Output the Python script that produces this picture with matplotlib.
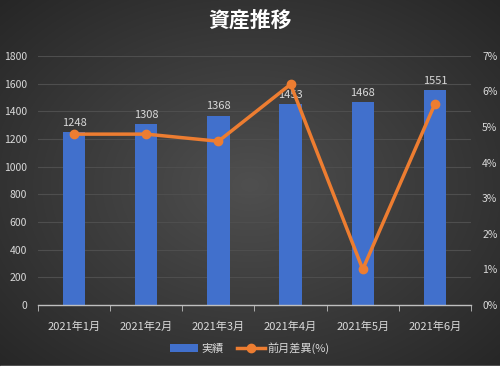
import numpy as np
import matplotlib
matplotlib.use("Agg")
import matplotlib.pyplot as plt
from matplotlib.ticker import PercentFormatter

plt.rcParams['font.family'] = ['Noto Sans CJK JP', 'DejaVu Sans']

# data
months = ['2021年1月', '2021年2月', '2021年3月', '2021年4月', '2021年5月', '2021年6月']
actual = [1248, 1308, 1368, 1453, 1468, 1551]
diff_pct = [4.8, 4.8, 4.6, 6.2, 1.0, 5.65]  # %

fig = plt.figure(figsize=(5, 3.7), dpi=100)

# dark radial gradient background
bg = fig.add_axes([0, 0, 1, 1])
yy, xx = np.mgrid[-1:1:370j, -1:1:500j]
r = np.sqrt(xx**2 + yy**2) / np.sqrt(2)
shade = 0.31 - 0.16 * r
img = np.dstack([shade, shade, shade])
bg.imshow(img, aspect='auto', extent=[0, 1, 0, 1])
bg.axhspan(0, 0.012, color='white')
bg.set_xlim(0, 1)
bg.set_ylim(0, 1)
bg.axis('off')

ax = fig.add_axes([0.076, 0.176, 0.866, 0.673])
ax.patch.set_alpha(0)
x = np.arange(len(months))
bars = ax.bar(x, actual, width=0.31, color='#4170CC', zorder=2, label='実績')
for xi, v in zip(x, actual):
    ax.text(xi, v + 30, str(v), ha='center', va='bottom', color='#d9d9d9', fontsize=8)

ax.set_xlim(-0.5, 5.5)
ax.set_ylim(0, 1800)
ax.set_yticks(range(0, 1801, 200))
ax.grid(axis='y', color='#4e4e4e', linewidth=0.8, zorder=0)
ax.set_axisbelow(True)
for s in ['top', 'right', 'left']:
    ax.spines[s].set_visible(False)
ax.spines['bottom'].set_color('#bfbfbf')
ax.spines['bottom'].set_linewidth(1)
ax.set_xticks(x)
ax.set_xticklabels(months)
ax.set_xticks(np.arange(-0.5, 6, 1), minor=True)
ax.tick_params(axis='x', which='major', length=0, pad=12, labelcolor='#d9d9d9', labelsize=8)
ax.tick_params(axis='x', which='minor', length=4, color='#bfbfbf', direction='out')
ax.tick_params(axis='y', length=0, labelcolor='#d9d9d9', labelsize=7.5, pad=8)

ax2 = ax.twinx()
ax2.plot(x, diff_pct, color='#ED7D31', linewidth=2.5, marker='o', markersize=6, label='前月差異(%)', zorder=3)
ax2.set_ylim(0, 7)
ax2.set_yticks(range(0, 8))
ax2.yaxis.set_major_formatter(PercentFormatter(decimals=0))
ax2.tick_params(axis='y', length=0, labelcolor='#d9d9d9', labelsize=7.5, pad=8)
for s in ax2.spines.values():
    s.set_visible(False)

fig.text(0.5, 0.945, '資産推移', ha='center', va='center', color='white', fontsize=15, fontweight='bold')

h1, l1 = ax.get_legend_handles_labels()
h2, l2 = ax2.get_legend_handles_labels()
fig.legend(h1 + h2, l1 + l2, loc='center', bbox_to_anchor=(0.5, 0.06), ncol=2, frameon=False,
           fontsize=8, labelcolor='#d9d9d9', handlelength=2.5, columnspacing=1.2, handletextpad=0.3)

fig.savefig('out.png', dpi=100)
